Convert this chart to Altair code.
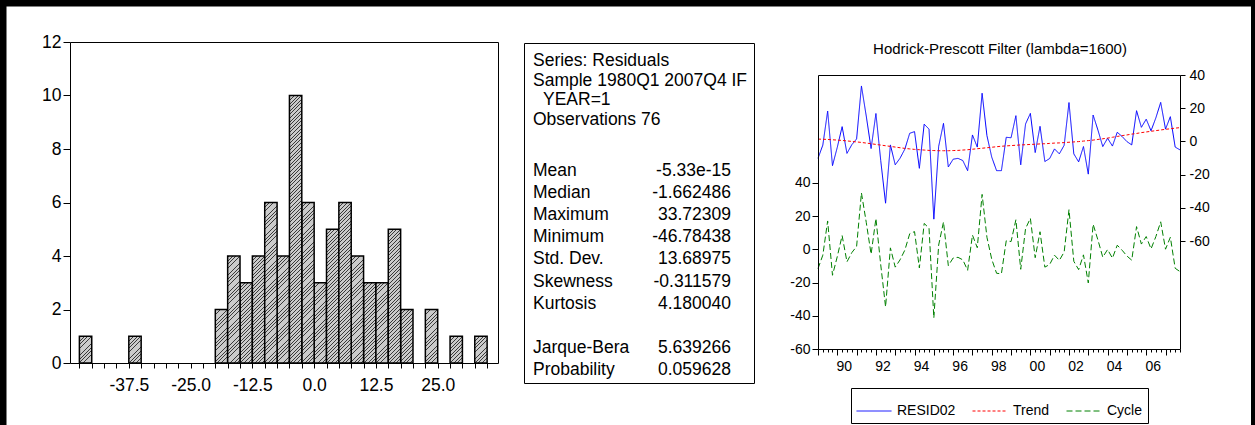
import altair as alt
import pandas as pd

W, H = 1255, 425
FONT = "Liberation Sans"

# ---------------- data ----------------
hist_bin_start = [-47.5, -45.0, -42.5, -40.0, -37.5, -35.0, -32.5, -30.0, -27.5, -25.0, -22.5,
                  -20.0, -17.5, -15.0, -12.5, -10.0, -7.5, -5.0, -2.5, 0.0, 2.5, 5.0, 7.5,
                  10.0, 12.5, 15.0, 17.5, 20.0, 22.5, 25.0, 27.5, 30.0, 32.5]
hist_counts = [1, 0, 0, 0, 1, 0, 0, 0, 0, 0, 0,
               2, 4, 3, 4, 6, 4, 10, 6, 3, 5, 6, 4,
               3, 3, 5, 2, 0, 2, 0, 1, 0, 1]
hist_bin_width = 2.5
hist_tick_values = hist_bin_start + [35.0]
hist_y_ticks = [0, 2, 4, 6, 8, 10, 12]

stat_header = ["Series: Residuals", "Sample 1980Q1 2007Q4 IF", "YEAR=1", "Observations 76"]
stat_names = ["Mean", "Median", "Maximum", "Minimum", "Std. Dev.", "Skewness", "Kurtosis",
              "Jarque-Bera", "Probability"]
stat_values = ["-5.33e-15", "-1.662486", "33.72309", "-46.78438", "13.68975", "-0.311579",
               "4.180040", "5.639266", "0.059628"]
stat_lines = [0, 1, 2, 3, 4, 5, 6, 8, 9]

hp_title = "Hodrick-Prescott Filter (lambda=1600)"
hp_start_year = 1989
resid02 = [-10.2, -2.2, 18.3, -14.6, -3.5, 8.9, -7.2, -2.0, 1.5, 33.4,
           15.2, -4.3, 16.8, -11.6, -37.2, -2.1, -14.1, -10.1, -4.6, 4.9,
           5.9, -16.2, 10.4, 7.4, -46.8, -3.0, 10.9, -15.4, -10.7, -10.2,
           -11.5, -17.6, 3.9, -3.4, 29.0, 3.5, -9.5, -17.6, -17.6, 2.5,
           2.2, 15.5, -14.1, 10.5, 16.9, -6.7, 9.1, -12.1, -10.3, -4.5,
           -7.5, -2.3, 23.4, -7.5, -12.3, -3.1, -19.7, 15.9, 6.8, -3.1,
           1.9, -2.8, 5.5, 3.0, -0.1, -2.1, 18.5, 8.5, 13.4, 6.4,
           14.2, 23.5, 7.4, 14.9, -3.4, -5.1]
trend = [1.4, 1.3, 1.2, 1.0, 0.8, 0.6, 0.3, 0.0, -0.3, -0.6,
         -1.0, -1.4, -1.8, -2.2, -2.6, -3.0, -3.4, -3.8, -4.2, -4.5,
         -4.8, -5.0, -5.2, -5.4, -5.5, -5.6, -5.6, -5.6, -5.5, -5.4,
         -5.2, -5.0, -4.7, -4.4, -4.1, -3.8, -3.5, -3.2, -2.9, -2.7,
         -2.5, -2.3, -2.1, -2.0, -1.8, -1.7, -1.5, -1.4, -1.2, -1.0,
         -0.9, -0.7, -0.5, -0.3, -0.1, 0.2, 0.5, 0.8, 1.2, 1.6,
         2.0, 2.5, 3.0, 3.5, 3.9, 4.4, 4.8, 5.3, 5.7, 6.1,
         6.5, 6.9, 7.3, 7.6, 8.0, 8.3]
cycle = [-11.6, -3.5, 17.1, -15.6, -4.3, 8.3, -7.5, -2.0, 1.8, 34.0,
         16.2, -2.9, 18.6, -9.4, -34.6, 0.9, -10.7, -6.3, -0.4, 9.4,
         10.7, -11.2, 15.6, 12.8, -41.3, 2.6, 16.5, -9.8, -5.2, -4.8,
         -6.3, -12.6, 8.6, 1.0, 33.1, 7.3, -6.0, -14.4, -14.7, 5.2,
         4.7, 17.8, -12.0, 12.5, 18.7, -5.0, 10.6, -10.7, -9.1, -3.5,
         -6.6, -1.6, 23.9, -7.2, -12.2, -3.3, -20.2, 15.1, 5.6, -4.7,
         -0.1, -5.3, 2.5, -0.5, -4.0, -6.5, 13.7, 3.2, 7.7, 0.3,
         7.7, 16.6, 0.1, 7.3, -11.4, -13.4]
series_names = ["RESID02", "Trend", "Cycle"]
series_colors = ["#0000ff", "#ff0000", "#008000"]
series_dash = [[1, 0], [3, 2], [6, 3]]
hp_y_ticks = [-60, -40, -20, 0, 20, 40]

# ---------------- layout constants (pixels) ----------------
HX0, HX1, HY0, HY1 = 70.0, 498.0, 42.0, 363.0
HXD = [-49.4, 37.2]
SX0, SX1, SY0, SY1 = 524.0, 754.0, 43.0, 383.0
PX0, PX1, PY0, PY1 = 818.0, 1180.0, 75.0, 349.0

HATCH_BG = "#cbcbcb"
HATCH_FG = "#3a3a3a"
BAR_W_PX = hist_bin_width * (HX1 - HX0) / (HXD[1] - HXD[0])
UNIT_PX = (HY1 - HY0) / 12.0


def gs(o, c):
    return alt.GradientStop(offset=round(o, 5), color=c)


def hatch_fill(c):
    w, h = BAR_W_PX, c * UNIT_PX
    L = w + h
    k = L / (w * w + h * h)
    period, lw = 3.6, 0.9
    stops = [gs(0.0, HATCH_BG)]
    pos = 1.0
    while pos < L:
        a = pos / L
        b = min((pos + lw) / L, 1.0)
        stops += [gs(a, HATCH_BG), gs(a, HATCH_FG), gs(b, HATCH_FG), gs(b, HATCH_BG)]
        pos += period
    stops.append(gs(1.0, HATCH_BG))
    return alt.LinearGradient(gradient="linear", stops=stops, x1=0, y1=0,
                              x2=round(k * w, 5), y2=round(k * h, 5))


# ---------------- histogram ----------------
hdf = pd.DataFrame({"start": hist_bin_start, "n": hist_counts})
hdf["end"] = hdf["start"] + hist_bin_width
hdf = hdf[hdf["n"] > 0]

hx_scale = alt.Scale(domain=HXD, range=[HX0, HX1], nice=False, zero=False)
hy_scale = alt.Scale(domain=[0, 12], range=[HY1, HY0], nice=False, zero=False)
hx_axis = alt.Axis(orient="bottom", offset=HY1 - H, values=hist_tick_values, tickSize=5,
                   domain=False, title=None, labelFontSize=17.5, labelPadding=8,
                   labelFlush=False, labelOverlap=False,
                   labelExpr="(datum.value % 12.5 == 0 && datum.value >= -37.5 && datum.value <= 25) ? "
                             "((datum.value < 0 ? '-' : '') + format(abs(datum.value), '.1f')) : ''")
hy_axis = alt.Axis(orient="left", offset=-HX0, values=hist_y_ticks, tickSize=7, labelPadding=2,
                   domain=False, title=None, labelFontSize=17.5, labelFlush=False)

bar_layers = []
for c in sorted(set(int(v) for v in hist_counts if v > 0)):
    bar_layers.append(
        alt.Chart(hdf).transform_filter(alt.datum.n == c)
        .mark_rect(fill=hatch_fill(c), stroke="black", strokeWidth=1.5)
        .encode(
            x=alt.X("start:Q", scale=hx_scale, axis=hx_axis),
            x2="end:Q",
            y=alt.Y("n:Q", scale=hy_scale, axis=hy_axis),
            y2=alt.datum(0),
        )
    )
hist = alt.layer(*bar_layers)

# ---------------- HP filter ----------------
n = len(resid02)
tq = [hp_start_year + i / 4 for i in range(n)]
hp_main = pd.DataFrame({"t": tq * 2, "value": resid02 + trend,
                        "series": [series_names[0]] * n + [series_names[1]] * n})
hp_cyc = pd.DataFrame({"t": tq, "value": cycle, "series": [series_names[2]] * n})

px_scale = alt.Scale(domain=[tq[0], tq[-1]], range=[PX0, PX1], nice=False, zero=False)
pr_scale = alt.Scale(domain=[-125, 40], range=[PY1, PY0], nice=False, zero=False)
pl_scale = alt.Scale(domain=[-60, 105], range=[PY1, PY0], nice=False, zero=False)

px_axis = alt.Axis(orient="bottom", offset=PY1 - H, values=tq,
                   tickSize={"condition": {"test": "datum.value % 1 == 0", "value": 6}, "value": 3},
                   labelExpr="datum.value % 2 == 0 ? ((datum.value % 100 < 10 ? '0' : '') + (datum.value % 100)) : ''",
                   labelOffset=6.5, labelPadding=4, domain=False, title=None, labelFontSize=14,
                   labelFlush=False, labelOverlap=False)
minus_expr = "(datum.value < 0 ? '-' : '') + abs(datum.value)"
pr_axis = alt.Axis(orient="right", offset=PX1 - W, values=hp_y_ticks, tickSize=5, labelPadding=4,
                   domain=False, title=None, labelFontSize=14, labelExpr=minus_expr, labelFlush=False)
pl_axis = alt.Axis(orient="left", offset=-PX0, values=hp_y_ticks, tickSize=6, labelPadding=2,
                   domain=False, title=None, labelFontSize=14, labelExpr=minus_expr, labelFlush=False)

leg = alt.Legend(title=None, orient="none", legendX=851, legendY=388, direction="horizontal",
                 strokeColor="black", padding=5, symbolType="stroke", symbolSize=1225,
                 symbolStrokeWidth=1, labelFontSize=14, labelFont=FONT, columnPadding=14,
                 labelOffset=5, labelColor="black")
color_enc = alt.Color("series:N", scale=alt.Scale(domain=series_names, range=series_colors), legend=leg)
dash_enc = alt.StrokeDash("series:N", scale=alt.Scale(domain=series_names, range=series_dash), legend=leg)

hp_a = alt.Chart(hp_main).mark_line(strokeWidth=1).encode(
    x=alt.X("t:Q", scale=px_scale, axis=px_axis),
    y=alt.Y("value:Q", scale=pr_scale, axis=pr_axis),
    color=color_enc, strokeDash=dash_enc,
)
hp_b = alt.Chart(hp_cyc).mark_line(strokeWidth=1).encode(
    x=alt.X("t:Q", scale=px_scale, axis=None),
    y=alt.Y("value:Q", scale=pl_scale, axis=pl_axis),
    color=color_enc, strokeDash=dash_enc,
)

title_mark = alt.Chart(pd.DataFrame({"txt": [hp_title]})).mark_text(
    fontSize=15, align="center", baseline="middle").encode(
    x=alt.value(1000), y=alt.value(49), text="txt:N")

# ---------------- statistics box ----------------
hdr_df = pd.DataFrame({"line": list(range(len(stat_header))), "txt": stat_header})
st_df = pd.DataFrame({"line": stat_lines, "name": stat_names, "val": stat_values})
hdr_scale = alt.Scale(domain=[0, 3], range=[61, 119.5])
hdr_main = alt.Chart(hdr_df).transform_filter("datum.line != 2").mark_text(
    align="left", baseline="middle", fontSize=17.5).encode(
    x=alt.value(533), y=alt.Y("line:Q", scale=hdr_scale, axis=None), text="txt:N")
hdr_cont = alt.Chart(hdr_df).transform_filter("datum.line == 2").mark_text(
    align="left", baseline="middle", fontSize=17.5, dx=10).encode(
    x=alt.value(533), y=alt.Y("line:Q", scale=hdr_scale, axis=None), text="txt:N")
hdr_text = alt.layer(hdr_main, hdr_cont)
st_scale = alt.Scale(domain=[0, 9], range=[171, 370])
st_names = alt.Chart(st_df).mark_text(align="left", baseline="middle", fontSize=17.5).encode(
    x=alt.value(533), y=alt.Y("line:Q", scale=st_scale, axis=None), text="name:N")
st_vals = alt.Chart(st_df).mark_text(align="right", baseline="middle", fontSize=17.5).encode(
    x=alt.value(731), y=alt.Y("line:Q", scale=st_scale, axis=None), text="val:N")
stats = alt.layer(st_names, st_vals)

# ---------------- frames & border ----------------
deco = pd.DataFrame({"k": [0]})


def frame(x0, x1, y0, y1):
    return alt.Chart(deco).mark_rect(fillOpacity=0, stroke="black", strokeWidth=1).encode(
        x=alt.value(x0 + 0.5), x2=alt.value(x1 + 0.5), y=alt.value(y0 + 0.5), y2=alt.value(y1 + 0.5))


border_l = alt.Chart(deco).mark_rule(color="black", strokeWidth=6.5).encode(
    x=alt.value(3.25), y=alt.value(0), y2=alt.value(H))
border_t = alt.Chart(deco).mark_rule(color="black", strokeWidth=6.5).encode(
    y=alt.value(3.25), x=alt.value(0), x2=alt.value(W))
border_r = alt.Chart(deco).mark_rule(color="black", strokeWidth=4).encode(
    x=alt.value(W - 2), y=alt.value(0), y2=alt.value(H))

chart = alt.layer(
    hist, frame(HX0, HX1, HY0, HY1),
    hdr_text, stats, frame(SX0, SX1, SY0, SY1),
    hp_a, hp_b, frame(PX0, PX1, PY0, PY1), title_mark,
    border_l, border_t, border_r,
).resolve_scale(x="independent", y="independent").properties(
    width=W, height=H, padding=0, background="white",
    autosize=alt.AutoSizeParams(type="none"),
).configure_view(strokeWidth=0).configure_axis(
    grid=False, labelFont=FONT, labelColor="black", tickColor="black", domainColor="black", tickWidth=1
).configure_text(font=FONT, color="black")

chart.save("out.html", embed_options={"renderer": "svg", "actions": False})
